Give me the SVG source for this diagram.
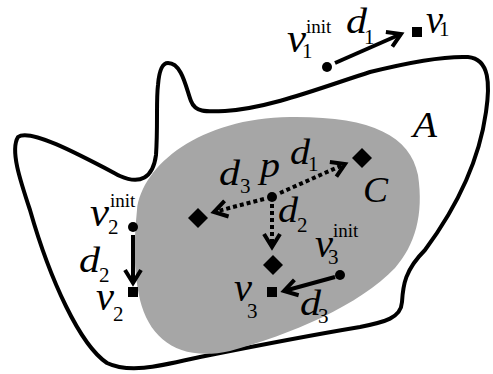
<svg xmlns="http://www.w3.org/2000/svg" width="493" height="374" viewBox="0 0 493 374">
<style>
text{font-family:"Liberation Serif","Times New Roman",serif;fill:#000}
.it{font-style:italic;font-size:36px}
.v{font-style:italic;font-size:39px}
.sub{font-style:normal;font-size:21px}
.sup{font-style:normal;font-size:19px}
.solid{fill:none;stroke:#000;stroke-width:4;marker-end:url(#arr)}
.dot{fill:none;stroke:#000;stroke-width:4;stroke-dasharray:4 3;marker-end:url(#arr)}
.pt{fill:#000}
</style>
<defs>
<marker id="arr" markerUnits="userSpaceOnUse" markerWidth="24" markerHeight="24" viewBox="-16 -12 20 24" refX="0" refY="0" orient="auto" overflow="visible">
<path d="M-13,-8 L0,0 L-13,8" fill="none" stroke="#000" stroke-width="4"/>
</marker>
</defs>
<g id="A">
<path d="M168,63 C182,63 186,88 191,101 C195,112 205,112 225,111 C270,108 320,88 370,72 C410,62 445,56 468,57 C490,59 490,85 486,112 C480,155 462,200 425,250 C405,270 403,285 402,302 C401,318 385,322 360,327 C300,337 250,347 200,357 C160,366 130,374 107,363 C80,345 50,280 30,210 C20,180 10,150 18,137 C30,128 80,155 120,176 C140,185 153,178 156,155 C158,125 156,100 158,85 C159,72 162,63 168,63 Z" fill="none" stroke="#000" stroke-width="4"/>
<text class="it" x="413" y="137" textLength="24" lengthAdjust="spacingAndGlyphs">A</text>
</g>
<g id="C">
<path d="M137,210 C142,165 200,118 290,117 C370,116 410,135 418,175 C424,215 415,245 395,268 C360,305 290,335 230,351 C180,362 150,340 140,300 C133,270 134,240 137,210 Z" fill="#a6a6a6"/>
<text class="it" x="363" y="202" textLength="25" lengthAdjust="spacingAndGlyphs">C</text>
</g>
<g id="v1init">
<circle class="pt" cx="327" cy="67" r="5"/>
<text class="v" x="287" y="52" textLength="19" lengthAdjust="spacingAndGlyphs">v</text>
<text class="sub" x="302" y="58">1</text>
<text class="sup" x="306" y="33">init</text>
</g>
<g id="v1">
<rect class="pt" x="412" y="27" width="10" height="10"/>
<text class="v" x="426" y="33" textLength="17" lengthAdjust="spacingAndGlyphs">v</text>
<text class="sub" x="439" y="36">1</text>
</g>
<g id="v2init">
<circle class="pt" cx="133" cy="227" r="5"/>
<text class="v" x="90" y="226" textLength="19" lengthAdjust="spacingAndGlyphs">v</text>
<text class="sub" x="108" y="234">2</text>
<text class="sup" x="110" y="207">init</text>
</g>
<g id="v2">
<rect class="pt" x="128" y="287" width="10" height="10"/>
<text class="v" x="96" y="310" textLength="18" lengthAdjust="spacingAndGlyphs">v</text>
<text class="sub" x="113" y="321">2</text>
</g>
<g id="v3init">
<circle class="pt" cx="340" cy="275" r="5"/>
<text class="v" x="315" y="257" textLength="18" lengthAdjust="spacingAndGlyphs">v</text>
<text class="sub" x="328" y="264">3</text>
<text class="sup" x="333" y="237">init</text>
</g>
<g id="v3">
<rect class="pt" x="267" y="287" width="10" height="10"/>
<text class="v" x="234" y="301" textLength="18" lengthAdjust="spacingAndGlyphs">v</text>
<text class="sub" x="247" y="318">3</text>
</g>
<g id="p">
<circle class="pt" cx="272" cy="197" r="5"/>
<text class="it" x="260" y="177" textLength="20" lengthAdjust="spacingAndGlyphs">p</text>
</g>
<g id="c1"><path class="pt" d="M362,148 L372,158 L362,168 L352,158 Z"/></g>
<g id="c2"><path class="pt" d="M198,208 L208,218 L198,228 L188,218 Z"/></g>
<g id="c3"><path class="pt" d="M273,255 L283,265 L273,275 L263,265 Z"/></g>
<g id="connectors">
<path class="solid" d="M335,63 L401,34"/>
<path class="solid" d="M133,235 L133,283"/>
<path class="solid" d="M335,277 L284,291"/>
<path class="dot" d="M280,193 L345,164"/>
<path class="dot" d="M264,199 L214,212"/>
<path class="dot" d="M272,204 L272,247"/>
<text class="it" x="346" y="33" textLength="21" lengthAdjust="spacingAndGlyphs">d</text><text class="sub" x="364" y="44">1</text>
<text class="it" x="219" y="185" textLength="21" lengthAdjust="spacingAndGlyphs">d</text><text class="sub" x="240" y="193">3</text>
<text class="it" x="290" y="164" textLength="20" lengthAdjust="spacingAndGlyphs">d</text><text class="sub" x="308" y="171">1</text>
<text class="it" x="278" y="222" textLength="20" lengthAdjust="spacingAndGlyphs">d</text><text class="sub" x="297" y="232">2</text>
<text class="it" x="300" y="315" textLength="21" lengthAdjust="spacingAndGlyphs">d</text><text class="sub" x="318" y="323">3</text>
<text class="it" x="79" y="272" textLength="21" lengthAdjust="spacingAndGlyphs">d</text><text class="sub" x="99" y="282">2</text>
</g>
</svg>
